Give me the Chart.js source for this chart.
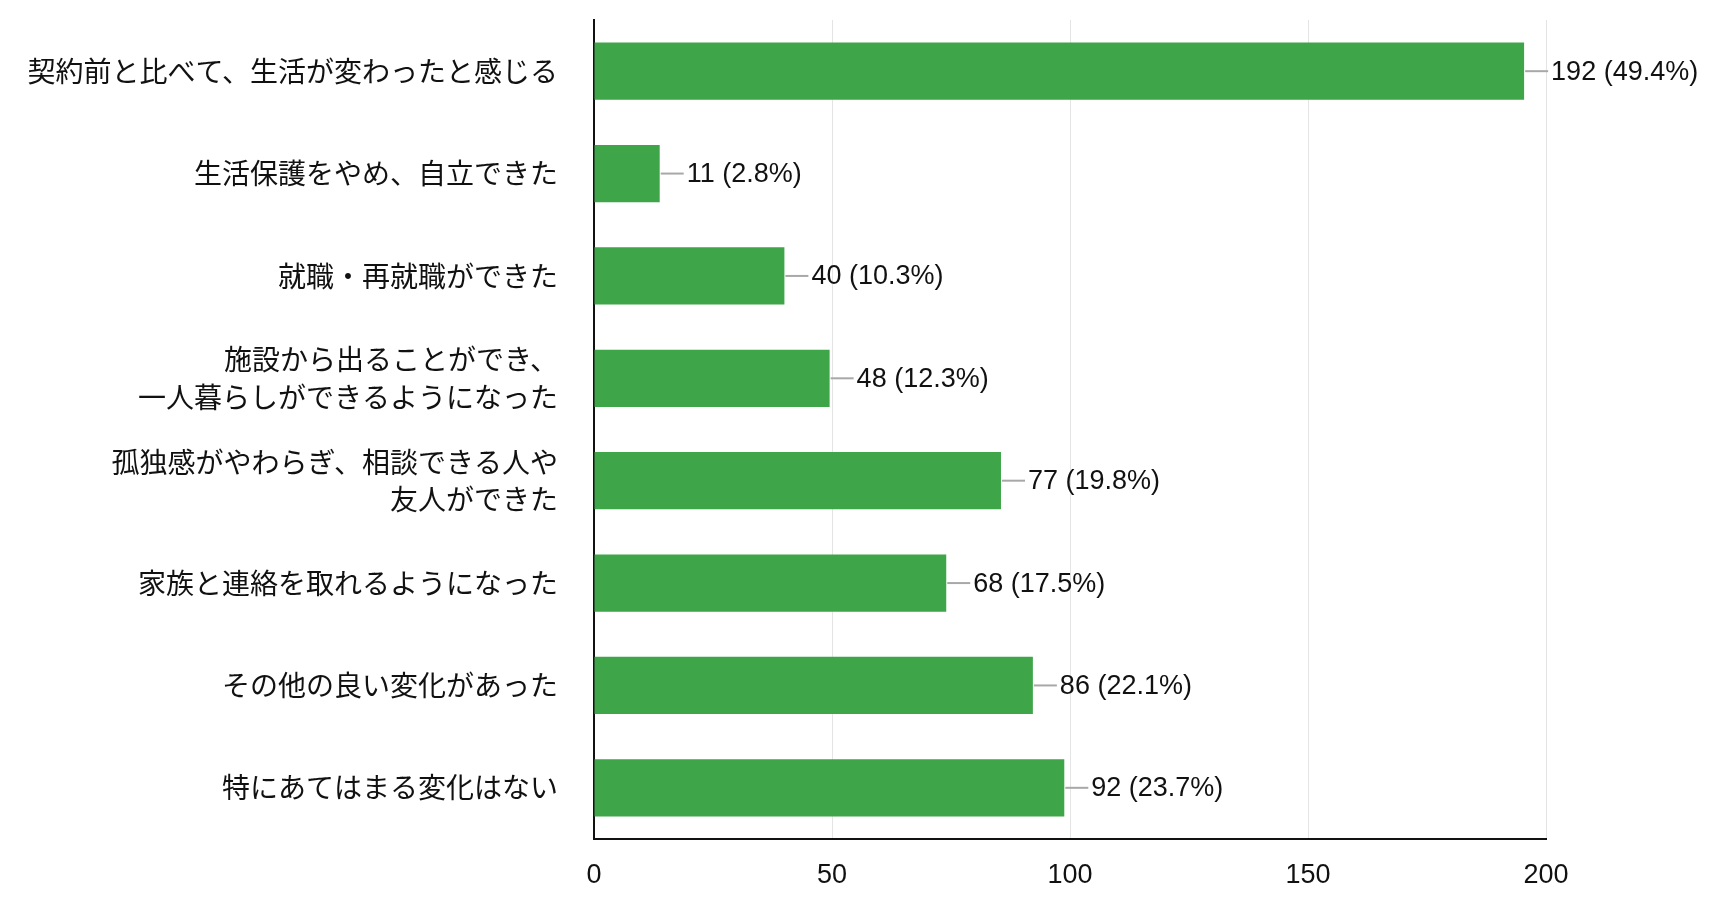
<!DOCTYPE html>
<html>
<head>
<meta charset="utf-8">
<script src="https://cdn.jsdelivr.net/npm/chart.js@4.4.1/dist/chart.umd.min.js"></script>
<style>
  body { margin: 0; background: #fff; }
  #wrap { width: 1719px; height: 915px; position: relative; }
</style>
</head>
<body>
<div id="wrap"><canvas id="chart"></canvas></div>
<script>
// 回答項目
const categories = [
  '契約前と比べて、生活が変わったと感じる',
  '生活保護をやめ、自立できた',
  '就職・再就職ができた',
  ['施設から出ることができ、', '一人暮らしができるようになった'],
  ['孤独感がやわらぎ、相談できる人や', '友人ができた'],
  '家族と連絡を取れるようになった',
  'その他の良い変化があった',
  '特にあてはまる変化はない'
];
// バーの長さ
const barValues = [195.4, 13.8, 40, 49.5, 85.5, 74, 92.2, 98.8];
// 表示されているラベル
const valueLabels = ['192 (49.4%)', '11 (2.8%)', '40 (10.3%)', '48 (12.3%)', '77 (19.8%)', '68 (17.5%)', '86 (22.1%)', '92 (23.7%)'];
const xTicks = [0, 50, 100, 150, 200];

const labelPlugin = {
  id: 'valueLabels',
  afterDatasetsDraw(chart) {
    const ctx = chart.ctx;
    const meta = chart.getDatasetMeta(0);
    ctx.save();
    ctx.font = '27px "Liberation Sans"';
    ctx.textAlign = 'left';
    ctx.textBaseline = 'middle';
    meta.data.forEach((bar, i) => {
      ctx.strokeStyle = '#a8a8a8';
      ctx.lineWidth = 2;
      ctx.beginPath();
      ctx.moveTo(bar.x + 1, bar.y);
      ctx.lineTo(bar.x + 24, bar.y);
      ctx.stroke();
      ctx.fillStyle = '#111';
      ctx.fillText(valueLabels[i], bar.x + 27, bar.y + 1);
    });
    ctx.restore();
  }
};

new Chart(document.getElementById('chart'), {
  type: 'bar',
  data: {
    labels: categories,
    datasets: [{
      data: barValues,
      backgroundColor: '#3ea548',
      borderWidth: 0,
      categoryPercentage: 1,
      barPercentage: 0.56
    }]
  },
  options: {
    indexAxis: 'y',
    responsive: true,
    maintainAspectRatio: false,
    animation: false,
    layout: { padding: { top: 20, right: 173, left: 0, bottom: 0 } },
    plugins: {
      legend: { display: false },
      tooltip: { enabled: false }
    },
    scales: {
      x: {
        min: 0,
        max: 200,
        afterBuildTicks: (scale) => { scale.ticks = xTicks.map(v => ({ value: v })); },
        afterFit: (scale) => { scale.height = 76; },
        grid: { color: '#e4e4e4', lineWidth: 1, drawTicks: false },
        border: { color: '#111', width: 2 },
        ticks: { color: '#111', font: { family: '"Liberation Sans"', size: 27 }, padding: 20 }
      },
      y: {
        afterFit: (scale) => {
          scale.width = 594;
          scale.paddingTop = 0;
          scale.paddingBottom = 0;
        },
        grid: { display: false, drawTicks: false },
        border: { color: '#111', width: 2 },
        ticks: {
          color: '#111',
          font: { family: '"Noto Sans CJK JP"', size: 28, lineHeight: 1.34 },
          padding: 36
        }
      }
    }
  },
  plugins: [labelPlugin]
});
</script>
</body>
</html>
